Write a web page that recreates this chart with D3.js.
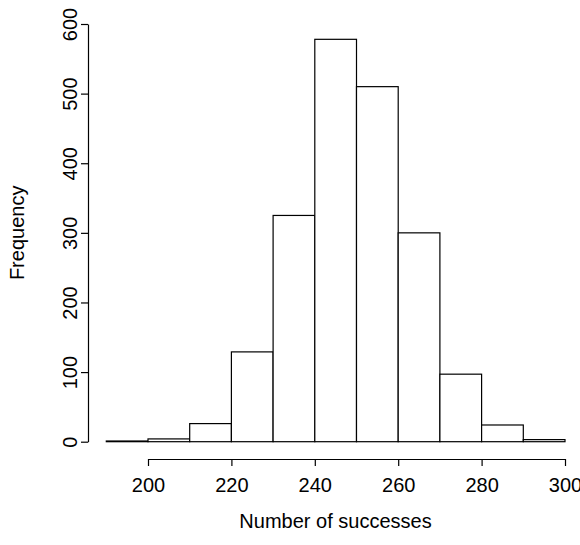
<!DOCTYPE html>
<html>
<head>
<meta charset="utf-8">
<script src="https://cdn.jsdelivr.net/npm/d3@7"></script>
<style>
  body { margin: 0; background: #fff; }
  svg { display: block; font-family: "Liberation Sans", Arial, Helvetica, sans-serif; }
</style>
</head>
<body>
<svg></svg>
<script>
// histogram bins (left edges, width 10) and counts
let binStarts = [190, 200, 210, 220, 230, 240, 250, 260, 270, 280, 290]
let counts = [1, 4, 26, 129, 325, 578, 510, 300, 97, 24, 3]
let binWidth = 10
let xTicks = [200, 220, 240, 260, 280, 300]
let yTicks = [0, 100, 200, 300, 400, 500, 600]

let width = 580
let height = 545
let fontSize = 20

let svg = d3.select("svg")
  .attr("width", width)
  .attr("height", height)

let xScale = d3.scaleLinear()
  .domain([200, 300])
  .range([148, 565])

let yScale = d3.scaleLinear()
  .domain([0, 600])
  .range([441.7, 24])

// bars
svg.selectAll("rect.bar")
  .data(binStarts)
  .enter()
  .append("rect")
  .attr("class", "bar")
  .attr("x", (d) => xScale(d))
  .attr("width", (d) => xScale(d + binWidth) - xScale(d))
  .attr("y", (d, i) => yScale(counts[i]))
  .attr("height", (d, i) => yScale(0) - yScale(counts[i]))
  .attr("fill", "white")
  .attr("stroke", "black")
  .attr("stroke-width", 1.2)

// x axis, R style
let xAxis = d3.axisBottom(xScale)
  .tickValues(xTicks)
  .tickSize(7)
  .tickPadding(12)
  .tickSizeOuter(0)
let gx = svg.append("g")
  .attr("transform", "translate(0, 459)")
  .call(xAxis)
gx.select(".domain").attr("stroke-width", 1.2)
gx.selectAll(".tick line").attr("stroke-width", 1.2)
gx.selectAll(".tick text")
  .style("font-size", fontSize + "px")
  .attr("font-family", null)
  .attr("fill", "black")

// y axis, labels parallel to the axis
let yAxis = d3.axisLeft(yScale)
  .tickValues(yTicks)
  .tickSize(7)
  .tickSizeOuter(0)
let gy = svg.append("g")
  .attr("transform", "translate(88, 0)")
  .call(yAxis)
gy.select(".domain").attr("stroke-width", 1.2)
gy.selectAll(".tick line").attr("stroke-width", 1.2)
gy.selectAll(".tick text")
  .attr("x", null)
  .attr("dy", null)
  .attr("transform", "translate(-11, 0) rotate(-90)")
  .attr("text-anchor", "middle")
  .attr("font-family", null)
  .attr("fill", "black")
  .style("font-size", fontSize + "px")

// axis titles
svg.append("text")
  .attr("x", (xScale(200) + xScale(300)) / 2 - 21)
  .attr("y", 528)
  .attr("text-anchor", "middle")
  .style("font-size", fontSize + "px")
  .text("Number of successes")

svg.append("text")
  .attr("transform", "translate(24, " + yScale(300) + ") rotate(-90)")
  .attr("text-anchor", "middle")
  .style("font-size", fontSize + "px")
  .text("Frequency")
</script>
</body>
</html>
